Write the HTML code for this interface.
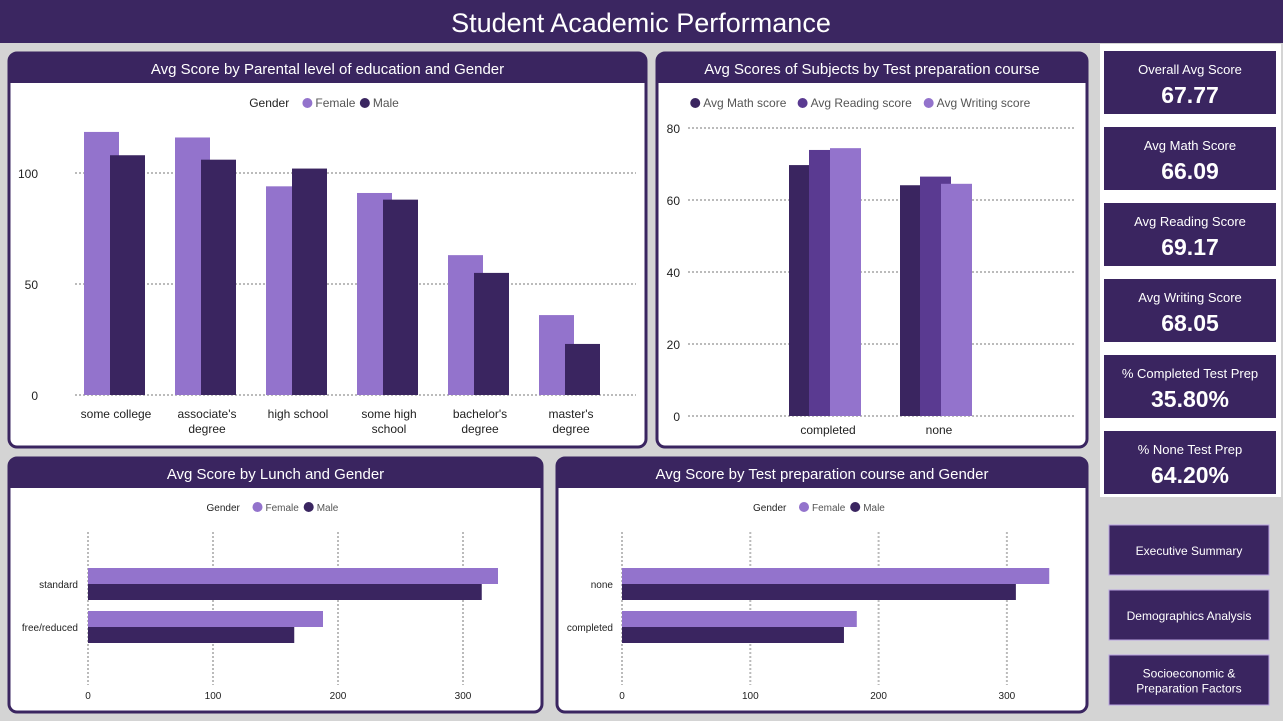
<!DOCTYPE html>
<html><head><meta charset="utf-8"><style>
body{margin:0;width:1283px;height:721px;overflow:hidden;background:#d6d6d6;font-family:"Liberation Sans",sans-serif;}
svg{display:block}
</style></head><body>
<svg id="s" width="1283" height="721" xmlns="http://www.w3.org/2000/svg">
<rect x="0" y="0" width="1283" height="721" fill="#d4d4d4"/>
<rect x="0" y="0" width="1283" height="43" fill="#3b2661"/>
<text x="641" y="32" text-anchor="middle" fill="#fff" font-size="27">Student Academic Performance</text>
<g id="g"></g>
</svg>
<script>
// Chart 1 data
const eduCats=["some college","associate's|degree","high school","some high|school","bachelor's|degree","master's|degree"];
const eduFemale=[118.5,116,94,91,63,36];
const eduMale=[108,106,102,88,55,23];
const eduTicks=[0,50,100];
// Chart 2 data
const prepCats=["completed","none"];
const mathVals=[69.7,64.1];
const readVals=[73.9,66.5];
const writeVals=[74.4,64.5];
const subjTicks=[0,20,40,60,80];
// Chart 3 data
const lunchCats=["standard","free/reduced"];
const lunchFemale=[328,188];
const lunchMale=[315,165];
const lunchTicks=[0,100,200,300];
// Chart 4 data
const tpCats=["none","completed"];
const tpFemale=[333,183];
const tpMale=[307,173];
const tpTicks=[0,100,200,300];
// KPIs
const kpiLabels=["Overall Avg Score","Avg Math Score","Avg Reading Score","Avg Writing Score","% Completed Test Prep","% None Test Prep"];
const kpiValues=["67.77","66.09","69.17","68.05","35.80%","64.20%"];
const navLabels=["Executive Summary","Demographics Analysis","Socioeconomic &|Preparation Factors"];

const DARK="#3a2560",LIGHT="#9373cc",MID="#5a3a91";
const NS="http://www.w3.org/2000/svg";
const G=document.getElementById('g');
function mk(tag,attrs,parent,txt){const e=document.createElementNS(NS,tag);for(const k in attrs)e.setAttribute(k,attrs[k]);if(txt!==undefined)e.textContent=txt;(parent||G).appendChild(e);return e;}

function panel(x,y,w,h,title,name){
  const g=mk('g',{});
  
  
  mk('rect',{x:x,y:y,width:w,height:h,rx:8,fill:'#fff',stroke:DARK,'stroke-width':3},g);
  mk('path',{d:`M${x} ${y+30}V${y+8}Q${x} ${y} ${x+8} ${y}H${x+w-8}Q${x+w} ${y} ${x+w} ${y+8}V${y+30}Z`,fill:DARK},g);
  const t=mk('text',{x:x+w/2,y:y+21,'text-anchor':'middle',fill:'#fff','font-size':15},g,title);
  
  
  return g;
}
function legend(g,cx,y,items,withLabel,fs){
  const lg=mk('g',{},g);
  
  
  let widths=items.map(it=>it[0].length*fs*0.52+20);
  let lw=withLabel?withLabel.length*fs*0.6+10:0;
  let total=lw+widths.reduce((a,b)=>a+b,0);
  let x=cx-total/2;
  if(withLabel){mk('text',{x:x,y:y+4,'font-size':fs,fill:'#222'},lg,withLabel);x+=lw;}
  items.forEach((it,i)=>{
    const e=mk('g',{},lg);
    
    
    mk('circle',{cx:x+5,cy:y,r:5,fill:it[1]},e);
    mk('text',{x:x+13,y:y+4,'font-size':fs,fill:'#555'},e,it[0]);
    x+=widths[i];
  });
}
function multiline(g,x,y,str,fs,anchor){
  str.split('|').forEach((s,i)=>mk('text',{x:x,y:y+i*15,'font-size':fs,'text-anchor':anchor||'middle',fill:'#222'},g,s));
}

// Chart 1
(function(){
  const g=panel(9,53,637,394,'Avg Score by Parental level of education and Gender','chart-parental-education');
  legend(g,327,103,[["Female",LIGHT],["Male",DARK]],"Gender",12);
  const y0=395,k=2.22;const yS=v=>y0-v*k;
  const xC=i=>114+i*91;
  eduTicks.forEach(t=>{mk('line',{x1:75,x2:636,y1:yS(t),y2:yS(t),stroke:'#bbb','stroke-width':2,'stroke-dasharray':'2 2'},g);
    mk('text',{x:38,y:yS(t)+5,'text-anchor':'end','font-size':12,fill:'#222'},g,t);});
  eduCats.forEach((c,i)=>{
    const f=mk('rect',{x:xC(i)-30,y:yS(eduFemale[i]),width:35,height:eduFemale[i]*k,fill:LIGHT},g);
    
    
    const m=mk('rect',{x:xC(i)-4,y:yS(eduMale[i]),width:35,height:eduMale[i]*k,fill:DARK},g);
    
    
    multiline(g,xC(i)+2,418,c,12);
  });
})();

// Chart 2
(function(){
  const g=panel(657,53,430,394,'Avg Scores of Subjects by Test preparation course','chart-subjects-by-prep');
  legend(g,870,103,[["Avg Math score",DARK],["Avg Reading score",MID],["Avg Writing score",LIGHT]],null,12);
  const y0=416,k=3.6;const yS=v=>y0-v*k;
  subjTicks.forEach(t=>{mk('line',{x1:688,x2:1076,y1:yS(t),y2:yS(t),stroke:'#bbb','stroke-width':2,'stroke-dasharray':'2 2'},g);
    mk('text',{x:680,y:yS(t)+5,'text-anchor':'end','font-size':12,fill:'#222'},g,t);});
  const xC=i=>825+i*111;
  prepCats.forEach((c,i)=>{
    [[mathVals,DARK,-36],[readVals,MID,-16],[writeVals,LIGHT,5]].forEach(s=>{
      const r=mk('rect',{x:xC(i)+s[2],y:yS(s[0][i]),width:31,height:s[0][i]*k,fill:s[1]},g);
      
      
    });
    mk('text',{x:xC(i)+3,y:434,'text-anchor':'middle','font-size':12,fill:'#222'},g,c);
  });
})();

// horizontal charts
function hchart(x,y,w,title,name,cats,fem,mal,ticks,x0,k,lx){
  const g=panel(x,y,w,254,title,name);
  legend(g,x+w/2,507,[["Female",LIGHT],["Male",DARK]],"Gender",10);
  const xS=v=>x0+v*k;
  ticks.forEach(t=>{mk('line',{x1:xS(t),x2:xS(t),y1:532,y2:685,stroke:'#bbb','stroke-width':2,'stroke-dasharray':'2 2'},g);
    mk('text',{x:xS(t),y:699,'text-anchor':'middle','font-size':10,fill:'#222'},g,t);});
  cats.forEach((c,i)=>{
    const yc=584+i*43;
    const f=mk('rect',{x:x0,y:yc-16,width:fem[i]*k,height:16,fill:LIGHT},g);
    
    
    const m=mk('rect',{x:x0,y:yc,width:mal[i]*k,height:16,fill:DARK},g);
    
    
    mk('text',{x:lx,y:yc+4,'text-anchor':'end','font-size':10,fill:'#222'},g,c);
  });
}
hchart(9,458,533,'Avg Score by Lunch and Gender','chart-lunch-gender',lunchCats,lunchFemale,lunchMale,lunchTicks,88,1.25,78);
hchart(557,458,530,'Avg Score by Test preparation course and Gender','chart-prep-gender',tpCats,tpFemale,tpMale,tpTicks,622,1.283,613);

// KPIs
mk('rect',{x:1100,y:44,width:181,height:453,fill:'#fff'});
kpiLabels.forEach((l,i)=>{
  const y=51+i*76;
  const g=mk('g',{});
  
  
  mk('rect',{x:1104,y:y,width:172,height:63,fill:DARK},g);
  mk('text',{x:1190,y:y+23,'text-anchor':'middle','font-size':13,fill:'#fff'},g,l);
  mk('text',{x:1190,y:y+52,'text-anchor':'middle','font-size':23,'font-weight':'bold',fill:'#fff'},g,kpiValues[i]);
});
navLabels.forEach((l,i)=>{
  const y=525+i*65;
  const g=mk('g',{});
  
  
  mk('rect',{x:1109,y:y,width:160,height:50,fill:DARK,stroke:'#b9a3e0','stroke-width':1},g);
  const parts=l.split('|');
  parts.forEach((p,j)=>mk('text',{x:1189,y:y+30+(j-(parts.length-1)/2)*15,'text-anchor':'middle','font-size':12,fill:'#fff'},g,p));
});
</script>
</body></html>
